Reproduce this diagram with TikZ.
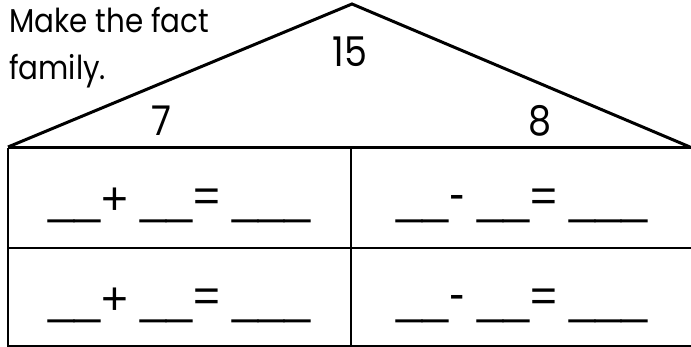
\documentclass[tikz,border=0pt]{standalone}
\usepackage{fontspec}
\setmainfont{Poppins}
\newfontfamily\narrowfont[FakeStretch=0.89]{Poppins}
\newfontfamily\eqfont{Liberation Sans}
\begin{document}
\begin{tikzpicture}[x=1pt,y=-1pt,
  roofline/.style={line width=3pt,line join=miter},
  gridline/.style={line width=2pt},
  title/.style={anchor=base west,inner sep=0pt,font=\narrowfont\fontsize{33}{36}\selectfont},
  num/.style={inner sep=0pt,font=\narrowfont\fontsize{41}{44}\selectfont},
  blankline/.style={anchor=base west,inner sep=0pt,font=\eqfont\fontsize{47}{50}\selectfont},
  opsym/.style={inner sep=0pt,font=\eqfont\fontsize{46}{50}\selectfont}]
\useasboundingbox (0,0) rectangle (691,347);
% roof
\coordinate (apex) at (352,4);
\coordinate (roofL) at (8,147);
\coordinate (roofR) at (690,147);
\draw[roofline] (roofL) -- (apex) -- (roofR);
% grid
\coordinate (tl) at (8,148);
\coordinate (tr) at (692,148);
\coordinate (ml) at (8,248);
\coordinate (mr) at (692,248);
\coordinate (bl) at (8,346);
\coordinate (br) at (692,346);
\coordinate (tm) at (351,148);
\coordinate (bm) at (351,347);
\draw[line width=3pt] (tl) -- (tr);
\draw[gridline] (tl) -- (bl|-bm);
\draw[gridline] (tm) -- (bm);
\draw[gridline] (ml) -- (mr);
\draw[gridline] (bl) -- (br);
% title
\node[title] (t1) at (9,33) {Make the fact};
\node[title] (t2) at (9,80) {family.};
% numbers
\node[num] (n15) at (350,52) {15};
\node[num] (n7) at (161,121) {7};
\node[num] (n8) at (540,121) {8};
% equations
\foreach \r/\L in {1/222,2/322}{
  \node[blankline] (a\r) at (48,\L-8.3) {\_\_};
  \node[opsym] (p\r) at (114.5,\L-21) {+};
  \node[blankline] (b\r) at (140,\L-8.3) {\_\_};
  \node[opsym] (e\r) at (206.5,\L-21.5) {=};
  \node[blankline] (c\r) at (232,\L-8.3) {\_\_\_};
  \node[blankline] (d\r) at (396,\L-8.3) {\_\_};
  \node[opsym] (m\r) at (457,\L-20) {-};
  \node[blankline] (f\r) at (477,\L-8.3) {\_\_};
  \node[opsym] (g\r) at (543.5,\L-22) {=};
  \node[blankline] (h\r) at (569,\L-8.3) {\_\_\_};
}
\end{tikzpicture}
\end{document}
